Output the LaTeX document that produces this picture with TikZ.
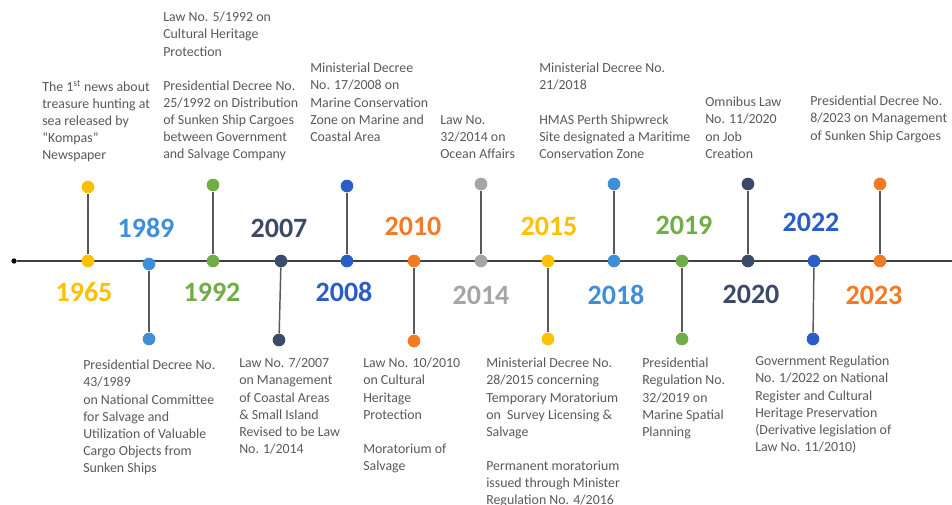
\documentclass[tikz,border=0pt]{standalone}
\usepackage{fontspec}
\setmainfont{Carlito}
\usetikzlibrary{positioning}
\definecolor{tlyellow}{HTML}{FFC000}
\definecolor{tllight}{HTML}{3F8ED8}
\definecolor{tlgreen}{HTML}{70AD47}
\definecolor{tlnavy}{HTML}{3B4A66}
\definecolor{tlblue}{HTML}{2A5DC6}
\definecolor{tlorange}{HTML}{F47B24}
\definecolor{tlgray}{HTML}{A5A5A5}
\definecolor{txtgray}{HTML}{595959}
\definecolor{axisgray}{HTML}{404040}

\begin{document}
\begin{tikzpicture}[
  x=0.75pt, y=-0.75pt,
  dot/.style={circle, inner sep=0pt, minimum size=9.5pt},
  year/.style={font=\fontsize{21}{25}\selectfont\bfseries},
  note/.style={anchor=north west, align=left, inner sep=0pt, text=txtgray, font=\fontsize{10.4}{12.8}\selectfont},
  stem/.style={txtgray, line width=1.1pt},
]
\useasboundingbox (0,0) rectangle (952,504);

% axis
\node[circle, fill=black, inner sep=0pt, minimum size=4pt] (a0) at (14,261) {};
\coordinate (aend) at (952,261);
\draw[axisgray, line width=1.6pt] (a0) -- (aend);

% 1965
\node[dot, fill=tlyellow] (d65) at (88,261) {};
\node[dot, fill=tlyellow] (t65) at (88,187) {};
\draw[stem] (d65) -- (t65);
\node[year, text=tlyellow] (y65) at (84,292) {1965};
\node[note] (n65) at (42,80) {The 1\textsuperscript{st} news about\\treasure hunting at\\sea released by\\``Kompas''\\Newspaper};

% 1989
\node[dot, fill=tllight] (d89) at (149,264) {};
\node[dot, fill=tllight] (t89) at (149,339) {};
\draw[stem] (d89) -- (t89);
\node[year, text=tllight] (y89) at (146,228) {1989};
\node[note] (n89) at (83,360) {Presidential Decree No.\\43/1989\\on National Committee\\for Salvage and\\Utilization of Valuable\\Cargo Objects from\\Sunken Ships};

% 1992
\node[dot, fill=tlgreen] (d92) at (213,261) {};
\node[dot, fill=tlgreen] (t92) at (213,185) {};
\draw[stem] (d92) -- (t92);
\node[year, text=tlgreen] (y92) at (212,292) {1992};
\node[note] (n92) at (163,12) {Law No. 5/1992 on\\Cultural Heritage\\Protection\\[12.8pt]Presidential Decree No.\\25/1992 on Distribution\\of Sunken Ship Cargoes\\between Government\\and Salvage Company};

% 2007
\node[dot, fill=tlnavy] (d07) at (281,261) {};
\node[dot, fill=tlnavy] (t07) at (279,340) {};
\draw[stem] (d07) -- (t07);
\node[year, text=tlnavy] (y07) at (279,228) {2007};
\node[note] (n07) at (239,358) {Law No. 7/2007\\on Management\\of Coastal Areas\\\& Small Island\\Revised to be Law\\No. 1/2014};

% 2008
\node[dot, fill=tlblue] (d08) at (347,261) {};
\node[dot, fill=tlblue] (t08) at (347,186) {};
\draw[stem] (d08) -- (t08);
\node[year, text=tlblue] (y08) at (344,292) {2008};
\node[note] (n08) at (310,63) {Ministerial Decree\\No. 17/2008 on\\Marine Conservation\\Zone on Marine and\\Coastal Area};

% 2010
\node[dot, fill=tlorange] (d10) at (414,261) {};
\node[dot, fill=tlorange] (t10) at (414,341) {};
\draw[stem] (d10) -- (t10);
\node[year, text=tlorange] (y10) at (413,226) {2010};
\node[note] (n10) at (363,358) {Law No. 10/2010\\on Cultural\\Heritage\\Protection\\[12.8pt]Moratorium of\\Salvage};

% 2014
\node[dot, fill=tlgray] (d14) at (481,261) {};
\node[dot, fill=tlgray] (t14) at (481,184) {};
\draw[stem] (d14) -- (t14);
\node[year, text=tlgray] (y14) at (481,295) {2014};
\node[note] (n14) at (440,115) {Law No.\\32/2014 on\\Ocean Affairs};

% 2015
\node[dot, fill=tlyellow] (d15) at (548,261) {};
\node[dot, fill=tlyellow] (t15) at (548,339) {};
\draw[stem] (d15) -- (t15);
\node[year, text=tlyellow] (y15) at (549,226) {2015};
\node[note] (n15) at (486,358) {Ministerial Decree No.\\28/2015 concerning\\Temporary Moratorium\\on\ \ Survey Licensing \&\\Salvage\\[12.8pt]Permanent moratorium\\issued through Minister\\Regulation No. 4/2016};

% 2018
\node[dot, fill=tllight] (d18) at (614,261) {};
\node[dot, fill=tllight] (t18) at (614,184) {};
\draw[stem] (d18) -- (t18);
\node[year, text=tllight] (y18) at (616,295) {2018};
\node[note] (n18) at (539,63) {Ministerial Decree No.\\21/2018\\[12.8pt]HMAS Perth Shipwreck\\Site designated a Maritime\\Conservation Zone};

% 2019
\node[dot, fill=tlgreen] (d19) at (682,261) {};
\node[dot, fill=tlgreen] (t19) at (682,339) {};
\draw[stem] (d19) -- (t19);
\node[year, text=tlgreen] (y19) at (684,225) {2019};
\node[note] (n19) at (642,358) {Presidential\\Regulation No.\\32/2019 on\\Marine Spatial\\Planning};

% 2020
\node[dot, fill=tlnavy] (d20) at (748,261) {};
\node[dot, fill=tlnavy] (t20) at (748,184) {};
\draw[stem] (d20) -- (t20);
\node[year, text=tlnavy] (y20) at (751,294) {2020};
\node[note] (n20) at (705,97) {Omnibus Law\\No. 11/2020\\on Job\\Creation};

% 2022
\node[dot, fill=tlblue] (d22) at (814,261) {};
\node[dot, fill=tlblue] (t22) at (813,339) {};
\draw[stem] (d22) -- (t22);
\node[year, text=tlblue] (y22) at (811,222) {2022};
\node[note] (n22) at (755,356) {Government Regulation\\No. 1/2022 on National\\Register and Cultural\\Heritage Preservation\\(Derivative legislation of\\Law No. 11/2010)};

% 2023
\node[dot, fill=tlorange] (d23) at (880,261) {};
\node[dot, fill=tlorange] (t23) at (880,184) {};
\draw[stem] (d23) -- (t23);
\node[year, text=tlorange] (y23) at (874,295) {2023};
\node[note] (n23) at (810,96) {Presidential Decree No.\\8/2023 on Management\\of Sunken Ship Cargoes};

\end{tikzpicture}
\end{document}
